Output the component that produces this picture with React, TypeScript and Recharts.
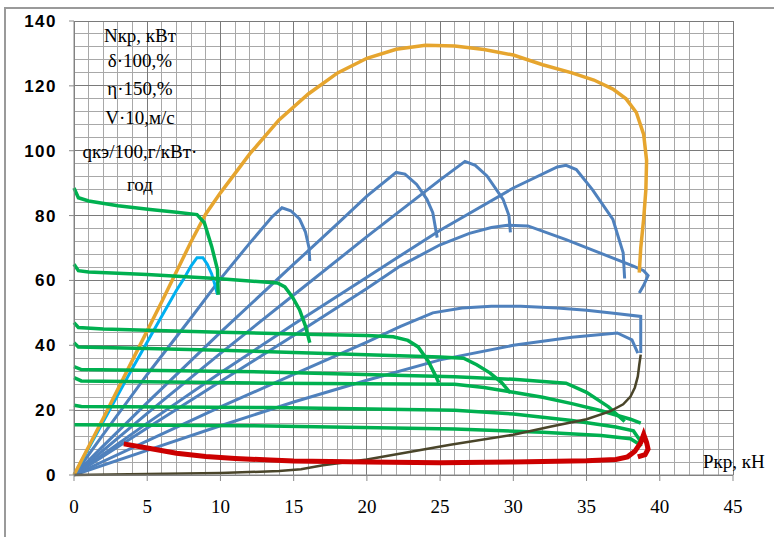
import React from "react"
import { LineChart, Line, XAxis, YAxis, ReferenceLine } from "recharts"

// axis ticks and grid
const xTicks = [0, 5, 10, 15, 20, 25, 30, 35, 40, 45]
const yTicks = [0, 20, 40, 60, 80, 100, 120, 140]
const gridX = Array.from({ length: 46 }, (_, i) => i)
const gridY = Array.from({ length: 36 }, (_, i) => i * 4)

// η·150 envelope (orange)
const efficiency = [
  { x: 0, y: 0 }, { x: 2, y: 17.5 }, { x: 4, y: 35.5 }, { x: 6, y: 53.5 }, { x: 8, y: 72 },
  { x: 9, y: 80.5 }, { x: 10, y: 87 }, { x: 12, y: 99 }, { x: 14, y: 109.5 }, { x: 16, y: 117.5 },
  { x: 18, y: 124 }, { x: 20, y: 128.5 }, { x: 22, y: 131.3 }, { x: 24, y: 132.5 }, { x: 26, y: 132.3 },
  { x: 28, y: 131.2 }, { x: 30, y: 129.5 }, { x: 32, y: 126.5 }, { x: 34, y: 124 }, { x: 35.5, y: 121.8 },
  { x: 36.8, y: 119 }, { x: 37.7, y: 116 }, { x: 38.4, y: 111.8 }, { x: 38.9, y: 105 }, { x: 39.1, y: 97 },
  { x: 39.05, y: 88 }, { x: 38.9, y: 79 }, { x: 38.7, y: 70 }, { x: 38.6, y: 62.4 },
]

// Nкр per gear (cyan = 1st gear, blue = the rest)
const power1 = [
  { x: 0, y: 0 }, { x: 2, y: 16.5 }, { x: 4, y: 33 }, { x: 6, y: 49 }, { x: 7, y: 57 },
  { x: 7.5, y: 60.5 }, { x: 8, y: 64.5 }, { x: 8.4, y: 67 }, { x: 8.8, y: 67 }, { x: 9.1, y: 65 },
  { x: 9.4, y: 62 }, { x: 9.6, y: 59 }, { x: 9.8, y: 55.6 },
]
const power2 = [
  { x: 0, y: 0 }, { x: 2, y: 12.5 }, { x: 5, y: 31 }, { x: 8, y: 48.5 }, { x: 10, y: 60.5 },
  { x: 12, y: 71.5 }, { x: 13.5, y: 79.5 }, { x: 14.2, y: 82.4 }, { x: 14.8, y: 81.5 }, { x: 15.4, y: 79 },
  { x: 15.8, y: 75 }, { x: 16.05, y: 70 }, { x: 16.1, y: 66 },
]
const power3 = [
  { x: 0, y: 0 }, { x: 2, y: 9 }, { x: 5, y: 22.3 }, { x: 10, y: 44 }, { x: 15, y: 65 },
  { x: 18, y: 77.5 }, { x: 20, y: 86 }, { x: 22, y: 93.3 }, { x: 22.6, y: 92.8 }, { x: 23.4, y: 89.6 },
  { x: 24.1, y: 85 }, { x: 24.5, y: 80.9 }, { x: 24.8, y: 73.2 },
]
const power4 = [
  { x: 0, y: 0 }, { x: 5, y: 19 }, { x: 10, y: 37.5 }, { x: 15, y: 55.5 }, { x: 20, y: 73.5 },
  { x: 25, y: 91 }, { x: 26.7, y: 96.7 }, { x: 27.4, y: 95.5 }, { x: 28.2, y: 92.2 }, { x: 29.3, y: 85 },
  { x: 29.7, y: 80 }, { x: 29.8, y: 74.8 },
]
const power5 = [
  { x: 0, y: 0 }, { x: 5, y: 16 }, { x: 10, y: 31.5 }, { x: 15, y: 46.5 }, { x: 20, y: 61 },
  { x: 25, y: 75.5 }, { x: 30, y: 88.5 }, { x: 33, y: 95 }, { x: 33.6, y: 95.5 }, { x: 34.3, y: 94.2 },
  { x: 35.4, y: 88 }, { x: 36.8, y: 78.8 }, { x: 37.5, y: 68.5 }, { x: 37.6, y: 60.6 },
]
const power6 = [
  { x: 0, y: 0 }, { x: 5, y: 14.5 }, { x: 10, y: 28.8 }, { x: 15, y: 43 }, { x: 20, y: 57.5 },
  { x: 22.3, y: 64.5 }, { x: 25, y: 71 }, { x: 27, y: 74.5 }, { x: 28.5, y: 76.3 }, { x: 29.6, y: 77 },
  { x: 31, y: 76.8 }, { x: 33.6, y: 72.6 }, { x: 35.9, y: 68.5 }, { x: 38.2, y: 64.4 }, { x: 38.9, y: 63 },
  { x: 39.2, y: 61.5 }, { x: 38.9, y: 58.5 }, { x: 38.6, y: 56.1 },
]
const power7 = [
  { x: 0, y: 0 }, { x: 5, y: 10.5 }, { x: 10, y: 21 }, { x: 15, y: 31 }, { x: 20, y: 41 },
  { x: 22.3, y: 45.8 }, { x: 24.5, y: 50 }, { x: 26.5, y: 51.5 }, { x: 28.5, y: 52 }, { x: 30.5, y: 52 },
  { x: 33, y: 51.5 }, { x: 35, y: 50.8 }, { x: 37, y: 49.8 }, { x: 38.7, y: 48.9 }, { x: 38.7, y: 43 },
  { x: 38.7, y: 37.6 },
]
const power8 = [
  { x: 0, y: 0 }, { x: 5, y: 7.6 }, { x: 10, y: 15.2 }, { x: 15, y: 22.5 }, { x: 20, y: 29.2 },
  { x: 25, y: 35.5 }, { x: 30, y: 40 }, { x: 34, y: 42.5 }, { x: 37.1, y: 43.8 }, { x: 38.1, y: 41.7 },
  { x: 38.5, y: 37.6 },
]

// V·10 per gear (green)
const speed1 = [
  { x: 0, y: 88.5 }, { x: 0.3, y: 85.5 }, { x: 1, y: 84.5 }, { x: 3, y: 83 }, { x: 5.2, y: 81.9 },
  { x: 7, y: 81 }, { x: 8.4, y: 80.3 }, { x: 8.9, y: 77.8 }, { x: 9.4, y: 70.5 }, { x: 9.8, y: 63.3 },
  { x: 9.85, y: 55.6 },
]
const speed2 = [
  { x: 0, y: 65 }, { x: 0.3, y: 63 }, { x: 1, y: 62.6 }, { x: 5, y: 61.8 }, { x: 10, y: 60.5 },
  { x: 13.9, y: 59.2 }, { x: 14.4, y: 58 }, { x: 14.9, y: 55 }, { x: 15.4, y: 51 }, { x: 15.8, y: 46 },
  { x: 16.1, y: 40.8 },
]
const speed3 = [
  { x: 0, y: 47 }, { x: 0.3, y: 45.5 }, { x: 2, y: 45 }, { x: 5, y: 44.6 }, { x: 10, y: 44 },
  { x: 15, y: 43.5 }, { x: 20, y: 43 }, { x: 21.8, y: 42.6 }, { x: 22.8, y: 41.5 }, { x: 23.5, y: 39.5 },
  { x: 24.2, y: 35 }, { x: 24.7, y: 30.5 }, { x: 24.9, y: 28.5 },
]
const speed4 = [
  { x: 0, y: 40.8 }, { x: 0.3, y: 39.5 }, { x: 5, y: 39 }, { x: 10, y: 38.5 }, { x: 15, y: 37.8 },
  { x: 20, y: 37.1 }, { x: 25, y: 36.4 }, { x: 26.6, y: 36 }, { x: 27.5, y: 34 }, { x: 28.4, y: 31.5 },
  { x: 29.2, y: 28.5 }, { x: 29.8, y: 25.3 },
]
const speed5 = [
  { x: 0, y: 33.4 }, { x: 0.5, y: 32.5 }, { x: 13, y: 31.8 }, { x: 26, y: 30.3 }, { x: 30, y: 29.5 },
  { x: 33.6, y: 28.3 }, { x: 35, y: 25.5 }, { x: 36.5, y: 21 }, { x: 37.6, y: 16.5 },
]
const speed6 = [
  { x: 0, y: 30 }, { x: 0.5, y: 29 }, { x: 13.4, y: 28.3 }, { x: 26, y: 28 }, { x: 28, y: 27 },
  { x: 30, y: 25.5 }, { x: 32, y: 24 }, { x: 34, y: 22 }, { x: 36, y: 19.8 }, { x: 38, y: 17.2 },
  { x: 38.7, y: 16 },
]
const speed7 = [
  { x: 0, y: 21.5 }, { x: 0.5, y: 21.1 }, { x: 13.4, y: 20.8 }, { x: 26, y: 20 }, { x: 30, y: 18.8 },
  { x: 34, y: 16.8 }, { x: 37, y: 14.8 }, { x: 38.2, y: 13.6 }, { x: 38.6, y: 11 }, { x: 38.7, y: 8.8 },
]
const speed8 = [
  { x: 0, y: 15.5 }, { x: 12, y: 15.2 }, { x: 26, y: 14.2 }, { x: 32, y: 13.2 }, { x: 36, y: 12.2 },
  { x: 38, y: 11.2 }, { x: 38.6, y: 9.5 },
]

// δ·100 (brown)
const slip = [
  { x: 0, y: 0 }, { x: 5, y: 0.3 }, { x: 10, y: 0.6 }, { x: 14, y: 1.2 }, { x: 15.5, y: 1.8 },
  { x: 17, y: 3 }, { x: 20, y: 4.8 }, { x: 25.7, y: 9.3 }, { x: 30, y: 12.4 }, { x: 32.5, y: 14.9 },
  { x: 35, y: 17.2 }, { x: 36.6, y: 19.6 }, { x: 37.5, y: 21.8 }, { x: 38, y: 24.2 }, { x: 38.3, y: 27 },
  { x: 38.5, y: 30.4 }, { x: 38.6, y: 34 }, { x: 38.7, y: 37.1 },
]

// qкэ/100 (red)
const fuel = [
  { x: 3.4, y: 9.6 }, { x: 5, y: 8.3 }, { x: 7, y: 6.7 }, { x: 9, y: 5.7 }, { x: 11, y: 5.1 },
  { x: 13.4, y: 4.6 }, { x: 15, y: 4.3 }, { x: 20, y: 4 }, { x: 25, y: 3.8 }, { x: 30, y: 4 },
  { x: 35, y: 4.4 }, { x: 37, y: 4.8 }, { x: 37.8, y: 5.6 }, { x: 38.3, y: 7.3 }, { x: 38.7, y: 10 },
  { x: 38.9, y: 12.5 }, { x: 39.1, y: 10 }, { x: 39.2, y: 8 }, { x: 39, y: 6.3 }, { x: 38.5, y: 5.6 },
]

const blueSeries = [power2, power3, power4, power5, power6, power7, power8]
const greenSeries = [speed1, speed2, speed3, speed4, speed5, speed6, speed7, speed8]

const notes = ["Nкр, кВт", "δ·100,%", "η·150,%", "V·10,м/с", "qкэ/100,г/кВт·", "год"]
const noteBaselines = [42, 67, 95, 124, 158, 191]

const serif = "'Liberation Serif', 'Times New Roman', serif"
const gridColor = (major: boolean) => (major ? "#7a7a7a" : "#a8a8a8")

export default function App() {
  return (
    <div style={{ position: "absolute", left: 0, top: 0, width: 774, height: 537, background: "#fff", overflow: "hidden" }}>
      <div
        style={{
          position: "absolute", left: 4, top: 7, width: 800, height: 540,
          borderLeft: "2px solid #9a9a9a", borderTop: "2px solid #9a9a9a",
        }}
      />
      <LineChart width={774} height={537} margin={{ top: 21, right: 41, bottom: 22, left: 14 }}>
        <XAxis
          type="number"
          dataKey="x"
          domain={[0, 45]}
          ticks={xTicks}
          interval={0}
          height={40}
          tickSize={6}
          tickMargin={19}
          stroke="#8a8a8a"
          tick={{ fill: "#000", fontFamily: serif, fontSize: 19 }}
        />
        <YAxis
          type="number"
          domain={[0, 140]}
          ticks={yTicks}
          interval={0}
          width={60}
          tickSize={5}
          tickMargin={12}
          stroke="#8a8a8a"
          tick={{ fill: "#000", fontFamily: "'Liberation Sans', Arial, sans-serif", fontSize: 17, fontWeight: "bold", letterSpacing: 1.5 }}
        />
        {gridX.filter((v) => v % 5 !== 0).map((v) => (
          <ReferenceLine key={`mx${v}`} x={v} stroke={gridColor(false)} strokeWidth={1} shapeRendering="crispEdges" />
        ))}
        {gridY.filter((v) => v % 20 !== 0).map((v) => (
          <ReferenceLine key={`my${v}`} y={v} stroke={gridColor(false)} strokeWidth={1} shapeRendering="crispEdges" />
        ))}
        {gridX.filter((v) => v % 5 === 0).map((v) => (
          <ReferenceLine key={`Mx${v}`} x={v} stroke={gridColor(true)} strokeWidth={1} shapeRendering="crispEdges" />
        ))}
        {gridY.filter((v) => v % 20 === 0).map((v) => (
          <ReferenceLine key={`My${v}`} y={v} stroke={gridColor(true)} strokeWidth={1} shapeRendering="crispEdges" />
        ))}
        {blueSeries.map((d, i) => (
          <Line key={`b${i}`} data={d} dataKey="y" type="linear" stroke="#4F81BD" strokeWidth={3} dot={false} isAnimationActive={false} />
        ))}
        <Line data={power1} dataKey="y" type="linear" stroke="#00B0F0" strokeWidth={3} dot={false} isAnimationActive={false} />
        <Line data={efficiency} dataKey="y" type="linear" stroke="#E6A52E" strokeWidth={3.5} dot={false} isAnimationActive={false} />
        {greenSeries.map((d, i) => (
          <Line key={`g${i}`} data={d} dataKey="y" type="linear" stroke="#00B050" strokeWidth={3.5} dot={false} isAnimationActive={false} />
        ))}
        <Line data={slip} dataKey="y" type="linear" stroke="#4A452A" strokeWidth={2.5} dot={false} isAnimationActive={false} />
        <Line data={fuel} dataKey="y" type="linear" stroke="#CC0000" strokeWidth={5} dot={false} isAnimationActive={false} />
      </LineChart>
      <svg width={774} height={537} style={{ position: "absolute", left: 0, top: 0, pointerEvents: "none" }}>
        {notes.map((t, i) => (
          <text key={t} x={140} y={noteBaselines[i]} textAnchor="middle" fontFamily={serif} fontSize={19} fill="#000">
            {t}
          </text>
        ))}
        <text x={703} y={468} fontFamily={serif} fontSize={19} fill="#000">Ркр, кН</text>
      </svg>
    </div>
  )
}
